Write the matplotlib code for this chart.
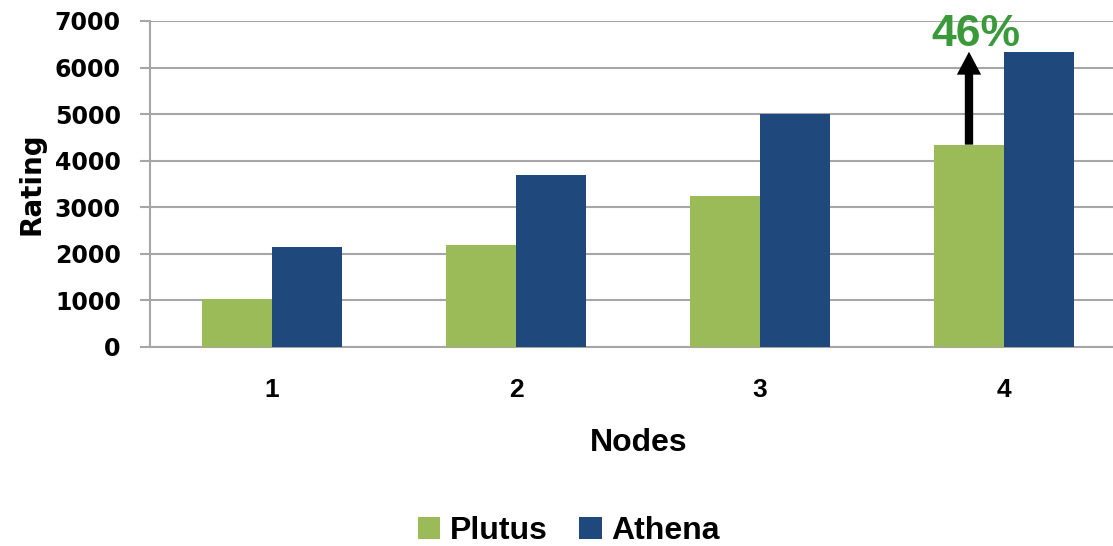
import numpy as np
import matplotlib.pyplot as plt

plt.rcParams['font.family'] = ['Liberation Sans', 'DejaVu Sans']

# --- DATA ---
nodes = ['1', '2', '3', '4']
plutus = [1030, 2190, 3245, 4345]
athena = [2155, 3695, 5005, 6340]
gain_label = '46%'

GREEN = '#9bbb59'
BLUE = '#1f497d'
GRID = '#a6a6a6'

fig = plt.figure(figsize=(11.13, 5.46), dpi=100)
ax = fig.add_axes([150 / 1113, 1 - 347 / 546, 963 / 1113, 326 / 546])

x = np.arange(1, len(nodes) + 1)
w = 0.287
ax.bar(x - w / 2, plutus, w, color=GREEN, label='Plutus', zorder=3)
ax.bar(x + w / 2, athena, w, color=BLUE, label='Athena', zorder=3)

ax.set_xlim(0.5, 0.5 + 963 / 244)
ax.set_ylim(0, 7000)
ax.set_yticks(range(0, 7001, 1000))
ax.set_xticks(x)
ax.set_xticklabels(nodes)

ax.yaxis.grid(True, color=GRID, linewidth=1.5, zorder=0)
for s in ['top', 'right']:
    ax.spines[s].set_visible(False)
for s in ['left', 'bottom']:
    ax.spines[s].set_color(GRID)
    ax.spines[s].set_linewidth(1.5)

ax.tick_params(axis='y', length=7, width=1.5, color=GRID, pad=14)
ax.tick_params(axis='x', length=0, pad=22)
for lbl in ax.get_yticklabels():
    lbl.set_fontfamily('DejaVu Sans')
    lbl.set_fontsize(17)
    lbl.set_fontweight('bold')
for lbl in ax.get_xticklabels():
    lbl.set_fontsize(19)
    lbl.set_fontweight('bold')

ax.set_ylabel('Rating', fontsize=20, fontweight='bold', family='DejaVu Sans')
ax.yaxis.set_label_coords(-0.109, 0.5)
ax.set_xlabel('Nodes', fontsize=23, fontweight='bold')
ax.xaxis.set_label_coords(0.507, -0.248)

# arrow showing the gain at 4 nodes
xa = x[-1] - w / 2
ax.annotate('', xy=(xa, athena[-1]), xytext=(xa, plutus[-1]),
            arrowprops=dict(arrowstyle='simple,head_length=1.65,head_width=1.75,tail_width=0.6',
                            mutation_scale=10, color='black', lw=0,
                            shrinkA=0, shrinkB=0),
            zorder=5)
ax.text(xa + 0.03, 6710, gain_label, color='#3a9a3a', fontsize=32,
        fontweight='bold', ha='center', va='center', zorder=5)

leg = fig.legend(loc='center', bbox_to_anchor=(0.511, 1 - 531 / 546), ncol=2,
                 frameon=False, fontsize=23, handlelength=0.7, handleheight=0.7,
                 handletextpad=0.3, columnspacing=1.0, borderpad=0.1)
for t in leg.get_texts():
    t.set_fontweight('bold')

fig.savefig('out.png', dpi=100)
